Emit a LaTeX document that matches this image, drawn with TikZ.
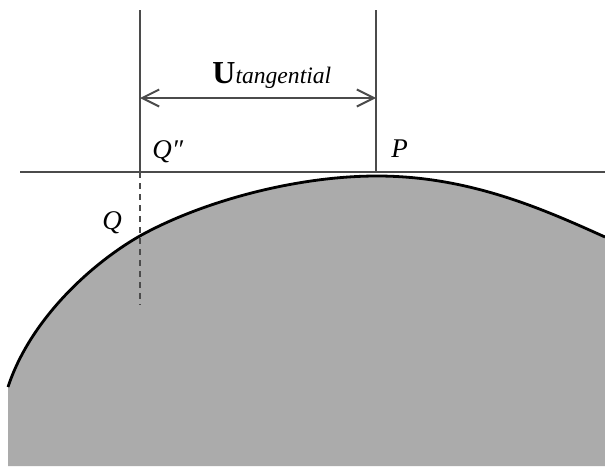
\documentclass[tikz,border=0pt]{standalone}
\usepackage{fontspec}
\setmainfont{Liberation Serif}
\usetikzlibrary{arrows.meta}
\definecolor{bodygray}{RGB}{171,171,171}
\definecolor{linegray}{RGB}{75,75,75}
\newcommand{\bodyedge}{(8,387) .. controls (30,320) and (90,265) .. (138,237)
    .. controls (200,202) and (295,176) .. (377,176)
    .. controls (470,176) and (545,210) .. (605,237)}
\begin{document}
\begin{tikzpicture}[
    x=0.5pt, y=-0.5pt,
    guide/.style={draw=linegray, line width=0.8pt},
    tangent/.style={draw=linegray, line width=1pt},
    span/.style={draw=linegray, line width=1pt, {Straight Barb[length=8.5pt, width=8.5pt]}-{Straight Barb[length=8.5pt, width=8.5pt]}},
    outline/.style={draw=black, line width=1.4pt, line join=round},
    pointlabel/.style={font=\fontsize{13.5}{15}\selectfont\itshape, inner sep=0pt, anchor=base west}
]
    \useasboundingbox (0,0) rectangle (605,466);

    % Body surface
    \fill[bodygray] \bodyedge -- (605,466) -- (8,466) -- cycle;
    \draw[outline] \bodyedge;

    % Construction points
    \coordinate (tanL) at (20,172);
    \coordinate (tanR) at (605,172);
    \coordinate (qtop) at (140,10);
    \coordinate (qfoot) at (140,172);
    \coordinate (qend) at (140,305);
    \coordinate (ptop) at (376,10);
    \coordinate (pfoot) at (376,172);
    \coordinate (arrL) at (140,98);
    \coordinate (arrR) at (376,98);

    % Tangent line and verticals
    \draw[tangent] (tanL) -- (tanR);
    \draw[guide] (qtop) -- (qfoot);
    \draw[guide, dash pattern=on 3pt off 2.5pt] (qfoot) -- (qend);
    \draw[guide] (ptop) -- (pfoot);

    % Tangential displacement
    \draw[span] (arrL) -- (arrR);
    \node[inner sep=0pt, anchor=base west] (utan) at (212,83)
        {\fontsize{16}{18}\selectfont\bfseries U\fontsize{11.8}{13}\selectfont\mdseries\itshape tangential};

    % Labels
    \node[pointlabel] (qpp) at (152,158) {Q″};
    \node[pointlabel] (pl) at (391,157) {P};
    \node[pointlabel] (ql) at (102,229) {Q};
\end{tikzpicture}
\end{document}
